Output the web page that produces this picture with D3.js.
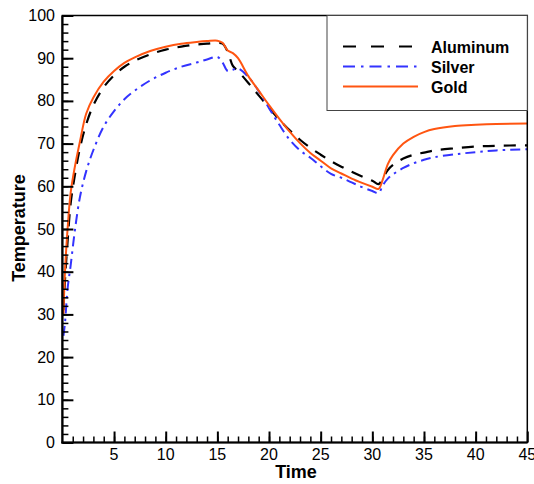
<!DOCTYPE html>
<html>
<head>
<meta charset="utf-8">
<script src="https://cdn.jsdelivr.net/npm/d3@7"></script>
<style>
  html, body { margin: 0; padding: 0; background: #fff; }
  svg { display: block; }
  text { font-family: "Liberation Sans", Arial, Helvetica, sans-serif; fill: #000; }
</style>
</head>
<body>
<svg id="chart" width="534" height="484"></svg>
<script>
// Sample times shared by all three series
const time = [0.1, 0.25, 0.5, 0.8, 1.2, 1.7, 2.3, 3, 4, 5, 6, 7, 8.5, 10, 11.5, 13, 14, 15, 15.5, 16, 16.5, 17,
  18, 19, 20, 21, 22, 23, 24, 25, 26, 27, 28, 29, 30, 30.6, 31, 31.5, 32, 33, 34, 35, 36, 38, 40, 42, 45];

const aluminum = [31, 38, 47, 56, 62.5, 69, 74.5, 79, 83.2, 86.0, 88.0, 89.4, 90.9, 92.0, 92.7, 93.2, 93.4, 93.6, 93.4, 91.5, 88.2, 87.0,
  84.2, 81.3, 78.4, 75.6, 73.1, 70.9, 69.0, 67.4, 65.9, 64.6, 63.4, 62.3, 61.3, 60.5, 61.8, 63.8, 65.0, 66.5, 67.4, 67.9, 68.4, 68.9, 69.3, 69.5, 69.6];

const silver = [25, 28, 36, 41.5, 49.5, 57.5, 63.5, 68.5, 74, 77.6, 80.4, 82.4, 84.8, 86.6, 88.0, 89.0, 89.7, 90.3, 89.0, 87.0, 87.3, 87.6,
  85.6, 82.3, 78.3, 74.4, 70.9, 68.4, 66.7, 64.7, 62.9, 62.0, 60.9, 59.8, 58.9, 58.4, 60.2, 61.8, 62.8, 64.3, 65.4, 66.2, 66.8, 67.5, 68.0, 68.4, 68.7];

const gold = [30, 40, 50, 58.5, 64.5, 70.5, 77, 80.8, 84.5, 87.0, 88.9, 90.2, 91.7, 92.7, 93.4, 93.8, 94.0, 94.1, 93.6, 91.8, 91.2, 90.0,
  85.8, 82.4, 79.0, 75.8, 72.8, 70.1, 67.8, 66.0, 64.2, 63.0, 61.8, 60.8, 59.9, 59.4, 61.5, 65.2, 67.3, 70.0, 71.6, 72.7, 73.4, 74.1, 74.4, 74.6, 74.7];

const seriesNames = ["Aluminum", "Silver", "Gold"];
const xTickLabels = [5, 10, 15, 20, 25, 30, 35, 40, 45];
const yTickLabels = [0, 10, 20, 30, 40, 50, 60, 70, 80, 90, 100];

const styles = {
  Aluminum: { color: "#000000", width: 2.2, dash: "12,9" },
  Silver:   { color: "#3333ff", width: 2, dash: "10,5,2.5,5" },
  Gold:     { color: "#ff5511", width: 2, dash: null }
};
const values = { Aluminum: aluminum, Silver: silver, Gold: gold };

const svg = d3.select("#chart");
const plotLeft = 62.4, plotRight = 527.3, plotTop = 15.5, plotBottom = 442.5;

const x = d3.scaleLinear().domain([0, 45]).range([plotLeft, plotRight]);
const y = d3.scaleLinear().domain([0, 100]).range([plotBottom, plotTop]);

// Curves
const line = d3.line()
  .x(d => x(d[0]))
  .y(d => y(d[1]))
  .curve(d3.curveCatmullRom.alpha(0.5));

const plot = svg.append("g");
seriesNames.forEach(name => {
  const s = styles[name];
  plot.append("path")
    .datum(time.map((t, i) => [t, values[name][i]]))
    .attr("d", line)
    .attr("fill", "none")
    .attr("stroke", s.color)
    .attr("stroke-width", s.width)
    .attr("stroke-dasharray", s.dash);
});

// Frame
svg.append("rect")
  .attr("x", plotLeft).attr("y", plotTop)
  .attr("width", plotRight - plotLeft).attr("height", plotBottom - plotTop)
  .attr("fill", "none").attr("stroke", "#000").attr("stroke-width", 1.5);

// Axes with inward ticks (minor ticks unlabeled)
const xAxisMinor = d3.axisTop(x).tickValues(d3.range(1, 45, 1)).tickSize(6).tickFormat("");
const xAxisMajor = d3.axisTop(x).tickValues(xTickLabels).tickSize(11).tickFormat("");
const yAxisMinor = d3.axisRight(y).tickValues(d3.range(2, 100, 2)).tickSize(6).tickFormat("");
const yAxisMajor = d3.axisRight(y).tickValues(yTickLabels).tickSize(11).tickFormat("");

function styleAxis(g, w) {
  g.select(".domain").remove();
  g.selectAll(".tick line").attr("stroke", "#000").attr("stroke-width", w);
}
svg.append("g").attr("transform", `translate(0,${plotBottom})`).call(xAxisMinor).call(g => styleAxis(g, 1.5));
svg.append("g").attr("transform", `translate(0,${plotBottom})`).call(xAxisMajor).call(g => styleAxis(g, 2));
svg.append("g").attr("transform", `translate(${plotLeft},0)`).call(yAxisMinor).call(g => styleAxis(g, 1.5));
svg.append("g").attr("transform", `translate(${plotLeft},0)`).call(yAxisMajor).call(g => styleAxis(g, 2));

// Heavier left and bottom axis lines
svg.append("line").attr("x1", plotLeft).attr("x2", plotLeft).attr("y1", plotTop).attr("y2", plotBottom + 1)
  .attr("stroke", "#000").attr("stroke-width", 2.2);
svg.append("line").attr("x1", plotLeft - 1).attr("x2", plotRight).attr("y1", plotBottom).attr("y2", plotBottom)
  .attr("stroke", "#000").attr("stroke-width", 2.2);

// Tick labels
svg.append("g").selectAll("text").data(xTickLabels).join("text")
  .attr("x", d => x(d)).attr("y", 460)
  .attr("text-anchor", "middle").attr("font-size", 16)
  .text(d => d);
svg.append("g").selectAll("text").data(yTickLabels).join("text")
  .attr("x", 55).attr("y", d => y(d) + 5.5)
  .attr("text-anchor", "end").attr("font-size", 16)
  .text(d => d);

// Axis titles
svg.append("text").attr("x", 296).attr("y", 478)
  .attr("text-anchor", "middle").attr("font-size", 18).attr("font-weight", "bold")
  .text("Time");
svg.append("text").attr("transform", "translate(25,228) rotate(-90)")
  .attr("text-anchor", "middle").attr("font-size", 18).attr("font-weight", "bold")
  .text("Temperature");

// Legend
const legend = svg.append("g");
legend.append("rect")
  .attr("x", 327).attr("y", 15.5).attr("width", plotRight - 327).attr("height", 95)
  .attr("fill", "#fff").attr("stroke", "#444").attr("stroke-width", 1);
seriesNames.forEach((name, i) => {
  const s = styles[name];
  const yy = 46.5 + i * 20;
  legend.append("line")
    .attr("x1", 343).attr("x2", 418).attr("y1", yy).attr("y2", yy)
    .attr("stroke", s.color).attr("stroke-width", s.width)
    .attr("stroke-dasharray", name === "Aluminum" ? "13,15" : (name === "Silver" ? "12,6,2.5,6" : null));
  legend.append("text")
    .attr("x", 431).attr("y", yy + 6)
    .attr("font-size", 16).attr("font-weight", "bold")
    .text(name);
});
</script>
</body>
</html>
